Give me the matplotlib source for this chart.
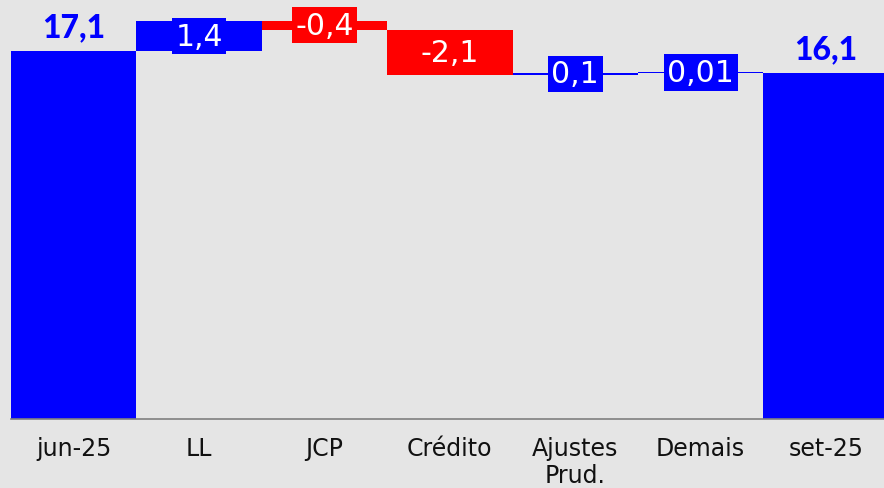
import matplotlib
matplotlib.use("Agg")
import matplotlib.pyplot as plt

categories = ["jun-25", "LL", "JCP", "Crédito", "Ajustes\nPrud.", "Demais", "set-25"]
start_value = 17.1
deltas = [1.4, -0.4, -2.1, 0.1, 0.01]
end_value = 16.1
labels = ["17,1", "1,4", "-0,4", "-2,1", "0,1", "0,01", "16,1"]

BLUE = "#0000ff"
RED = "#ff0000"
BG = "#e5e5e5"

plt.rcParams["font.family"] = ["DejaVu Sans"]

fig = plt.figure(figsize=(8.84, 4.89), dpi=100, facecolor=BG)
ax = fig.add_axes([0.0124, 0.141, 0.993, 0.859], facecolor=BG)

# totals
ax.bar([0, 6], [start_value, end_value], width=1.0, color=BLUE)
for x, v, lab in [(0, start_value, labels[0]), (6, end_value, labels[6])]:
    ax.text(x, v + 0.45, lab, ha="center", va="bottom", color=BLUE,
            fontsize=23, fontweight="black", family=["Lato", "DejaVu Sans"])

# deltas
level = start_value
for i, d in enumerate(deltas, start=1):
    col = BLUE if d >= 0 else RED
    bottom = level if d >= 0 else level + d
    ax.bar(i, abs(d), bottom=bottom, width=1.0, color=col)
    ax.text(i, bottom + abs(d) / 2, labels[i], ha="center", va="center",
            color="white", fontsize=21.5,
            bbox=dict(boxstyle="square,pad=0.12", facecolor=col, edgecolor="none"))
    level += d

ax.set_xlim(-0.5, 6.5)
ax.set_ylim(0, 19.52)
ax.set_xticks(range(len(categories)))
ax.set_xticklabels(categories, fontsize=17, color="#111111", linespacing=1.15)
ax.tick_params(axis="x", length=0, pad=12)
ax.set_yticks([])
for s in ["top", "left", "right"]:
    ax.spines[s].set_visible(False)
ax.spines["bottom"].set_color("#808080")
ax.spines["bottom"].set_linewidth(1.2)

fig.savefig("out.png", dpi=100, facecolor=BG)
